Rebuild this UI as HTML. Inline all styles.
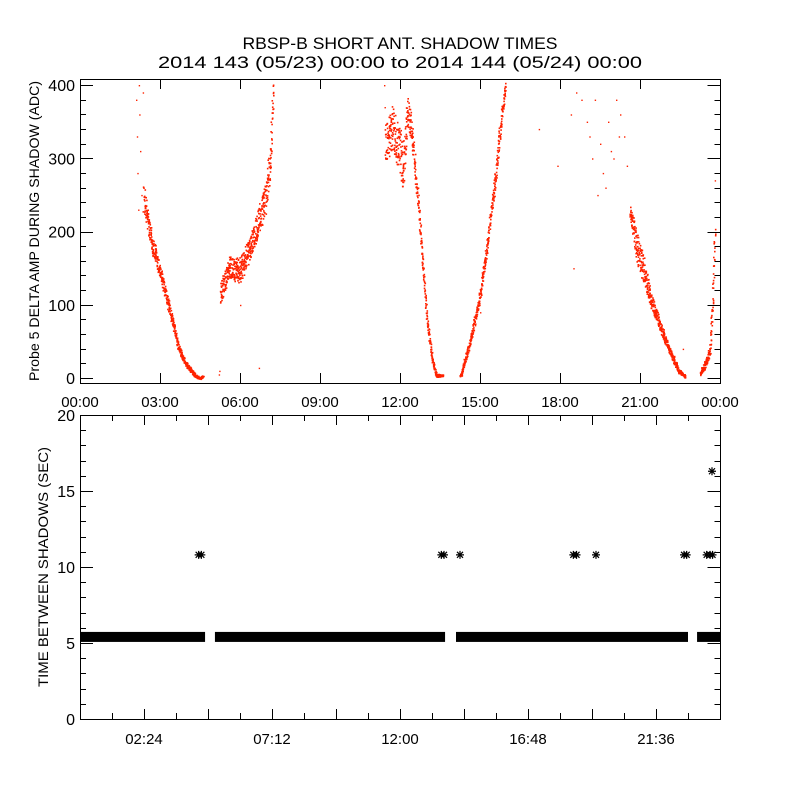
<!DOCTYPE html>
<html><head><meta charset="utf-8"><style>
html,body{margin:0;padding:0;background:#fff;}
svg{display:block;font-family:"Liberation Sans",sans-serif;}
</style></head><body>
<svg id="chart" width="800" height="800" viewBox="0 0 800 800" xmlns="http://www.w3.org/2000/svg">
<rect width="800" height="800" fill="#fff"/>
<text x="400" y="49" text-anchor="middle" font-size="17" textLength="315" lengthAdjust="spacingAndGlyphs">RBSP-B SHORT ANT. SHADOW TIMES</text>
<text x="400" y="68" text-anchor="middle" font-size="17" textLength="484" lengthAdjust="spacingAndGlyphs">2014 143 (05/23) 00:00 to 2014 144 (05/24) 00:00</text>
<g id="topPanel"></g>
<g id="botPanel"></g>
</svg>
<script>
// ---- Top panel data: knots [hour, value, spread] per pass ----
const topSeg1 = [[2.37,247,20],[2.63,193,15],[3.0,143,10],[3.38,89,7],[3.68,42,5],[3.94,20,3],[4.31,4,2],[4.5,0,1],[4.6,3,1]];
const topSeg2 = [[5.25,116,15],[5.6,152,15],[5.99,147,18],[6.37,179,15],[6.67,216,20],[6.94,243,25],[7.12,298,20],[7.2,366,15],[7.24,400,5]];
const topSeg3 = [[11.44,320,25],[11.7,343,30],[12.0,307,35],[12.1,284,30],[12.26,366,20],[12.41,343,20],[12.64,252,10],[12.83,161,6],[13.0,79,4],[13.2,25,3],[13.35,4,2],[13.6,4,1]];
const topSeg4 = [[14.25,2,2],[14.6,48,5],[14.93,102,7],[15.26,184,10],[15.56,274,12],[15.75,343,10],[15.94,400,5]];
const topSeg5 = [[20.6,229,10],[20.9,175,20],[21.1,152,20],[21.4,106,10],[21.75,70,8],[22.1,38,5],[22.43,11,3],[22.7,2,1]];
const topSeg6 = [[23.25,7,3],[23.44,20,5],[23.6,38,6],[23.7,100,8],[23.8,200,10]];
const topSparseHours = [2.1,2.13,2.15,2.18,2.2,2.22,2.25,2.3,2.35,5.2,5.22,6.0,6.7,11.4,11.42,11.45,17.2,17.9,19.4,18.4,18.6,18.8,19.0,19.1,19.2,19.3,19.5,19.6,19.7,19.8,19.9,20.0,20.1,20.2,20.25,20.4,20.5,14.35,15.0,18.5,22.6,23.8];
const topSparseValues = [380,330,280,230,400,360,310,250,390,5,10,100,14,400,370,330,340,290,250,360,390,380,350,330,300,380,320,280,260,350,310,300,380,330,360,330,290,20,90,150,40,270];
// ---- Bottom panel data ----
const bandStarts = [0.0, 5.06, 14.1, 23.14];
const bandEnds   = [4.69, 13.69, 22.8, 24.0];
const bandValue  = 5.4;
const starHours  = [4.45,4.55,13.55,13.65,14.25,18.5,18.62,19.35,22.65,22.75,23.5,23.63,23.72,23.7];
const starValues = [10.8,10.8,10.8,10.8,10.8,10.8,10.8,10.8,10.8,10.8,10.8,10.8,10.8,16.3];
const topYTicks = [0,100,200,300,400];
const topXTickLabels = ["00:00","03:00","06:00","09:00","12:00","15:00","18:00","21:00","00:00"];
const botYTicks = [0,5,10,15,20];
const botXTickHours = [2.4,7.2,12.0,16.8,21.6];
const botXTickLabels = ["02:24","07:12","12:00","16:48","21:36"];

const NS="http://www.w3.org/2000/svg";
function mk(parent,tag,attrs){const e=document.createElementNS(NS,tag);for(const k in attrs)e.setAttribute(k,attrs[k]);parent.appendChild(e);return e;}
const L=80,R=720;
const xs=h=>L+(R-L)*h/24;
const tTop=79,tBot=383;
const ty=v=>378-v*0.7325;
const bTop=415,bBot=719;
const by=v=>bBot-(bBot-bTop)*v/20;

// ---- top panel ----
const topG=document.getElementById('topPanel');
let seed=12345;
function rnd(){seed=(Math.imul(seed,1664525)+1013904223)>>>0;return seed/4294967296;}
const dots=mk(topG,'g',{fill:'#ff2200'});


function interp(k,h){for(let i=0;i<k.length-1;i++){if(h>=k[i][0]&&h<=k[i+1][0]){const f=(h-k[i][0])/(k[i+1][0]-k[i][0]);return [k[i][1]+f*(k[i+1][1]-k[i][1]),k[i][2]+f*(k[i+1][2]-k[i][2])];}}return [k[k.length-1][1],k[k.length-1][2]];}
[topSeg1,topSeg2,topSeg3,topSeg4,topSeg5,topSeg6].forEach(k=>{
  const h0=k[0][0],h1=k[k.length-1][0];
  for(let h=h0;h<=h1;h+=0.004){
    const r=interp(k,h);
    const val=r[0]+(rnd()*2-1)*r[1];
    if(val>408||val<-5)continue;
    mk(dots,'rect',{x:(xs(h)+(rnd()-0.5)*1.5).toFixed(1),y:ty(val).toFixed(1),width:1.6,height:1.6});
  }
});
topSparseHours.forEach((h,i)=>{mk(dots,'rect',{x:xs(h).toFixed(1),y:ty(topSparseValues[i]).toFixed(1),width:1.4,height:1.4});});
const tax=mk(topG,'g',{stroke:'#000','stroke-width':1,fill:'none'});


mk(tax,'rect',{x:L+0.5,y:tTop+0.5,width:R-L,height:tBot-tTop});
for(let v=0;v<=400;v+=20){const y=Math.round(ty(v))+0.5;const len=v%100===0?13:6;mk(tax,'line',{x1:L,y1:y,x2:L+len,y2:y});mk(tax,'line',{x1:R+0.5,y1:y,x2:R+0.5-len,y2:y});}
for(let h=3;h<24;h+=3){const x=Math.round(xs(h))+0.5;mk(tax,'line',{x1:x,y1:tBot,x2:x,y2:tBot-10});mk(tax,'line',{x1:x,y1:tTop,x2:x,y2:tTop+10});}
topYTicks.forEach(v=>{const t=mk(topG,'text',{x:75,y:ty(v)+6,'text-anchor':'end','font-size':16});t.textContent=v;});
topXTickLabels.forEach((s,i)=>{const t=mk(topG,'text',{x:xs(i*3),y:407,'text-anchor':'middle','font-size':15});t.textContent=s;});
const tyt=mk(topG,'text',{x:0,y:0,'text-anchor':'middle','font-size':14,transform:'translate(39,231) rotate(-90)',textLength:300,lengthAdjust:'spacingAndGlyphs'});
tyt.textContent='Probe 5 DELTA AMP DURING SHADOW (ADC)';



// ---- bottom panel ----
const botG=document.getElementById('botPanel');
const band=mk(botG,'g',{fill:'#000'});


bandStarts.forEach((s,i)=>{mk(band,'rect',{x:xs(s),y:by(bandValue)-5,width:xs(bandEnds[i])-xs(s),height:10});});
const stars=mk(botG,'g',{stroke:'#000','stroke-width':1.2});


starHours.forEach((h,i)=>{const x=xs(h),y=by(starValues[i]);
  mk(stars,'path',{d:`M${x-4},${y}H${x+4}M${x},${y-4}V${y+4}M${x-3},${y-3}L${x+3},${y+3}M${x-3},${y+3}L${x+3},${y-3}`});});
const bax=mk(botG,'g',{stroke:'#000','stroke-width':1,fill:'none'});


mk(bax,'rect',{x:L+0.5,y:bTop+0.5,width:R-L,height:bBot-bTop});
for(let v=1;v<20;v++){const y=Math.round(by(v))+0.5;const len=v%5===0?13:6;mk(bax,'line',{x1:L,y1:y,x2:L+len,y2:y});mk(bax,'line',{x1:R+0.5,y1:y,x2:R+0.5-len,y2:y});}
for(let k=1;k<20;k++){const h=k*1.2;const x=Math.round(xs(h))+0.5;const len=k%2===0?10:6;mk(bax,'line',{x1:x,y1:bBot,x2:x,y2:bBot-len});mk(bax,'line',{x1:x,y1:bTop,x2:x,y2:bTop+len});}
botYTicks.forEach(v=>{const t=mk(botG,'text',{x:75,y:by(v)+6,'text-anchor':'end','font-size':16});t.textContent=v;});
botXTickLabels.forEach((s,i)=>{const t=mk(botG,'text',{x:xs(botXTickHours[i]),y:744,'text-anchor':'middle','font-size':15});t.textContent=s;});
const byt=mk(botG,'text',{x:0,y:0,'text-anchor':'middle','font-size':14,transform:'translate(48,567) rotate(-90)',textLength:240,lengthAdjust:'spacingAndGlyphs'});
byt.textContent='TIME BETWEEN SHADOWS (SEC)';


</script>
</body></html>
